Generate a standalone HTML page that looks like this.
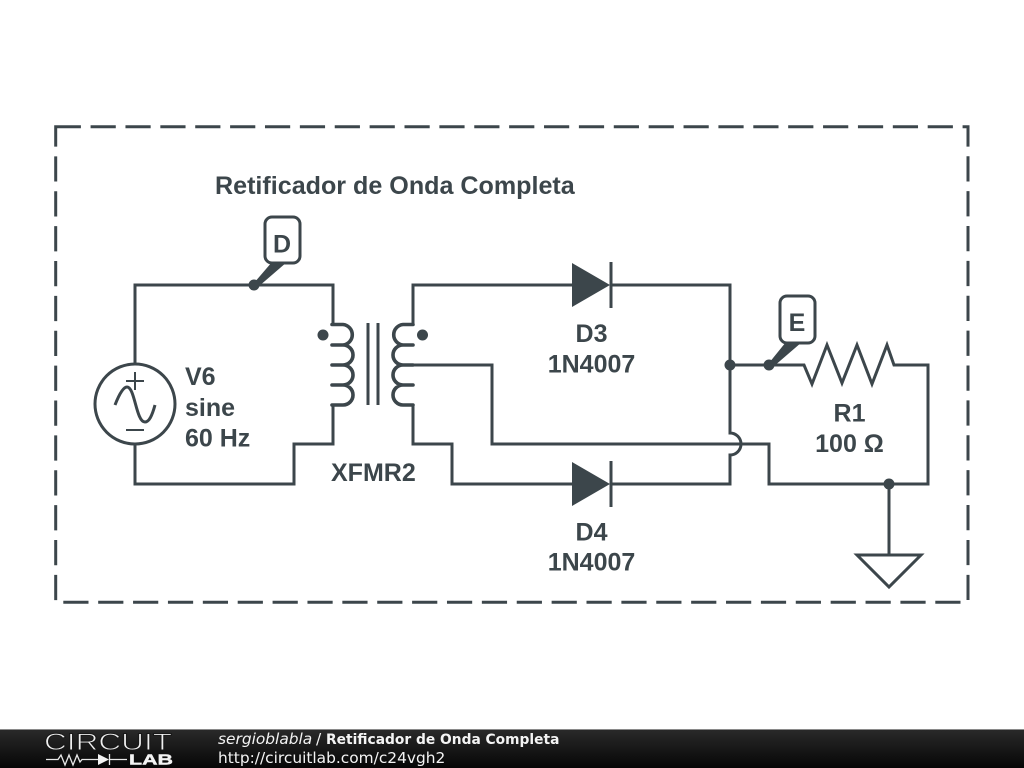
<!DOCTYPE html>
<html><head><meta charset="utf-8"><style>
html,body{margin:0;padding:0;background:#fff;width:1024px;height:768px;overflow:hidden}
svg{display:block}
.l{font-family:"Liberation Sans",sans-serif;font-weight:700;font-size:25px;fill:#3c464b}
.f{font-family:"DejaVu Sans",sans-serif;font-size:15.4px;fill:#f4f4f4}
</style></head><body>
<svg width="1024" height="768" viewBox="0 0 1024 768" xmlns="http://www.w3.org/2000/svg">
<defs><linearGradient id="g" x1="0" y1="0" x2="0" y2="1"><stop offset="0" stop-color="#2a2a2a"/><stop offset="1" stop-color="#060606"/></linearGradient></defs>
<rect width="1024" height="768" fill="#fff"/>
<g fill="none" stroke="#3c464b" stroke-width="3">
<rect x="55.7" y="126.8" width="912.3" height="475.4" stroke-dasharray="25.2 9.68" stroke-width="3"/>
<path d="M135 364V285H333V325M333 405V444H294V484H135V444"/>
<path d="M332 324.5H343A10.3 10.3 0 0 1 343 345H332M332 345H343A10 10 0 0 1 343 365H332M332 365H343A10 10 0 0 1 343 385H332M332 385H343A10 10 0 0 1 343 405H332" stroke-linecap="round" stroke-width="3.6"/>
<path d="M413 324.5H403A10.3 10.3 0 0 0 403 345H413M413 345H403A10 10 0 0 0 403 365H413M413 365H403A10 10 0 0 0 403 385H413M413 385H403A10 10 0 0 0 403 405H413" stroke-linecap="round" stroke-width="3.6"/>
<path d="M368 323V405M378 323V405"/>
<path d="M413 325V285H572M611 285H730V433A11 11 0 0 1 730 455V484H611M572 484H452V444H413V405"/>
<path d="M413 365H492V444H769V484H928V365H894L887 345L872 384L857 345L842 383L827 345L812 384L804 365H730"/>
<path d="M889 484V555M857 555H921L889 587Z"/>
<circle cx="135" cy="404" r="40"/>
<path d="M115 405C120 392 124 387 127 387C135 387 136 422 145 422C149 422 152 416 155 405" stroke-width="3"/>
<path d="M126 381H144M135 372V390M126 430H144" stroke-width="2"/>
<path d="M611 262V308M611 461V507" stroke-width="3"/>
<rect x="265" y="217" width="35" height="46" rx="7" stroke-width="3" fill="#fff"/>
<rect x="780" y="296" width="35" height="47" rx="7" stroke-width="3" fill="#fff"/>
</g>
<g fill="#3c464b">
<path d="M572 263L610 285L572 307Z"/>
<path d="M572 462L610 484L572 506Z"/>
<circle cx="323" cy="335" r="5.5"/><circle cx="422.5" cy="335" r="5.5"/>
<circle cx="254" cy="285" r="5.5"/><circle cx="730" cy="365" r="5.5"/><circle cx="769" cy="365" r="5.5"/><circle cx="889" cy="484" r="5.5"/>
<path d="M254 283L272 262H287L258 287Z"/>
<path d="M769 363L786 342H802L773 367Z"/>
</g>
<text x="215" y="194" class="l" style="font-size:25.1px">Retificador de Onda Completa</text>
<text x="282" y="252.500" class="l" text-anchor="middle">D</text>
<text x="797" y="331" class="l" text-anchor="middle">E</text>
<text x="185" y="385" class="l">V6</text>
<text x="185" y="416" class="l">sine</text>
<text x="185" y="446.500" class="l">60 Hz</text>
<text x="331" y="481" class="l">XFMR2</text>
<text x="591.500" y="342" class="l" text-anchor="middle">D3</text>
<text x="591.500" y="372.500" class="l" text-anchor="middle">1N4007</text>
<text x="591.500" y="540.500" class="l" text-anchor="middle">D4</text>
<text x="591.500" y="570.500" class="l" text-anchor="middle">1N4007</text>
<text x="849.500" y="421.500" class="l" text-anchor="middle">R1</text>
<text x="849.500" y="452" class="l" text-anchor="middle">100 Ω</text>
<rect y="729" width="1024" height="39" fill="url(#g)"/>
<rect y="729" width="1024" height="1" fill="#8a8a8a"/>
<text x="44" y="750" font-family="Liberation Sans,sans-serif" font-size="24" fill="#f0f0f0" stroke="#181818" stroke-width="0.9" textLength="128" lengthAdjust="spacingAndGlyphs">CIRCUIT</text>
<path d="M46 759.500H58L61 755L65 765L69 755L73 765L77 755L80 762L82 759.500H98M110 759.500H127M109.500 754V765" fill="none" stroke="#e8e8e8" stroke-width="1.300"/>
<path d="M98 754L109 759.500L98 765Z" fill="#f4f4f4"/>
<text x="129" y="764.500" font-family="Liberation Sans,sans-serif" font-size="14.500" font-weight="700" fill="#f4f4f4" stroke="#f4f4f4" stroke-width="0.400" textLength="44" lengthAdjust="spacingAndGlyphs">LAB</text>
<text x="218" y="744" class="f" font-style="italic">sergioblabla</text>
<text x="316" y="744" class="f">/</text>
<text x="326" y="744" class="f" font-weight="700" style="font-size:13.800px">Retificador de Onda Completa</text>
<text x="218" y="763" class="f">http://circuitlab.com/c24vgh2</text>
</svg>
</body></html>
